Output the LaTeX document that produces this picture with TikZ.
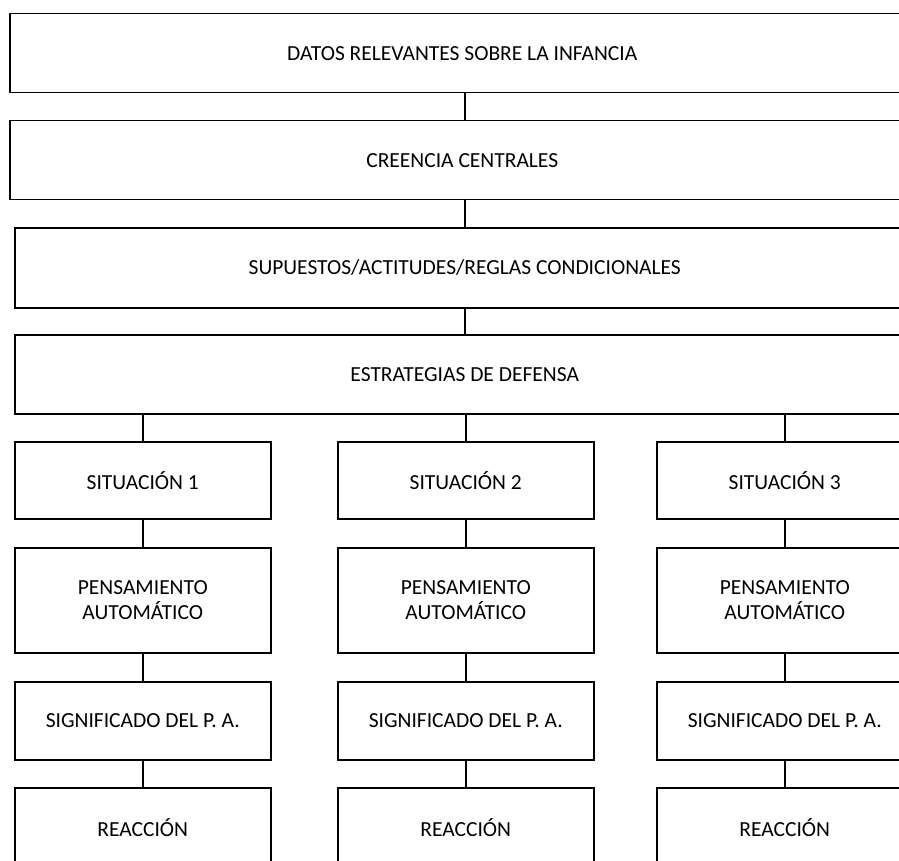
\documentclass[tikz,border=0pt]{standalone}
\usepackage{fontspec}
\setmainfont{Carlito}
\begin{document}
\begin{tikzpicture}[x=1pt,y=-1pt,
  box/.style={draw=black,line width=1.5pt,anchor=north west,inner sep=0pt,
    align=center,font=\fontsize{21.5}{25}\selectfont},
  link/.style={draw=black,line width=1.5pt}]
\useasboundingbox (0,0) rectangle (899,861);
\clip (0,0) rectangle (899,861);
\fill[white] (0,0) rectangle (899,861);
% stacked full-width boxes
\node[box,minimum width=905pt,minimum height=79pt] (d) at (9,13) {DATOS RELEVANTES SOBRE LA INFANCIA};
\node[box,minimum width=905pt,minimum height=79pt] (c) at (9,120) {CREENCIA CENTRALES};
\node[box,minimum width=900pt,minimum height=80pt] (s) at (14,227) {SUPUESTOS/ACTITUDES/REGLAS CONDICIONALES};
\node[box,minimum width=900pt,minimum height=79pt] (e) at (14,334) {ESTRATEGIAS DE DEFENSA};
% three columns
\foreach \i/\x in {1/14,2/337,3/656}{
  \node[box,minimum width=256pt,minimum height=77pt] (sit\i) at (\x,441) {SITUACIÓN \i};
  \node[box,minimum width=256pt,minimum height=105pt] (pa\i) at (\x,547) {PENSAMIENTO\\AUTOMÁTICO};
  \node[box,minimum width=256pt,minimum height=78pt] (sig\i) at (\x,681) {SIGNIFICADO DEL P. A.};
  \node[box,minimum width=256pt,minimum height=79pt] (r\i) at (\x,787) {REACCIÓN};
  \draw[link] (sit\i.north) -- (sit\i.north |- e.south);
  \draw[link] (sit\i.south) -- (pa\i.north);
  \draw[link] (pa\i.south) -- (sig\i.north);
  \draw[link] (sig\i.south) -- (r\i.north);
}
% main spine
\draw[link] (d.south -| s.south) -- (c.north -| s.south);
\draw[link] (c.south -| s.north) -- (s.north);
\draw[link] (s.south) -- (e.north);
\end{tikzpicture}
\end{document}
